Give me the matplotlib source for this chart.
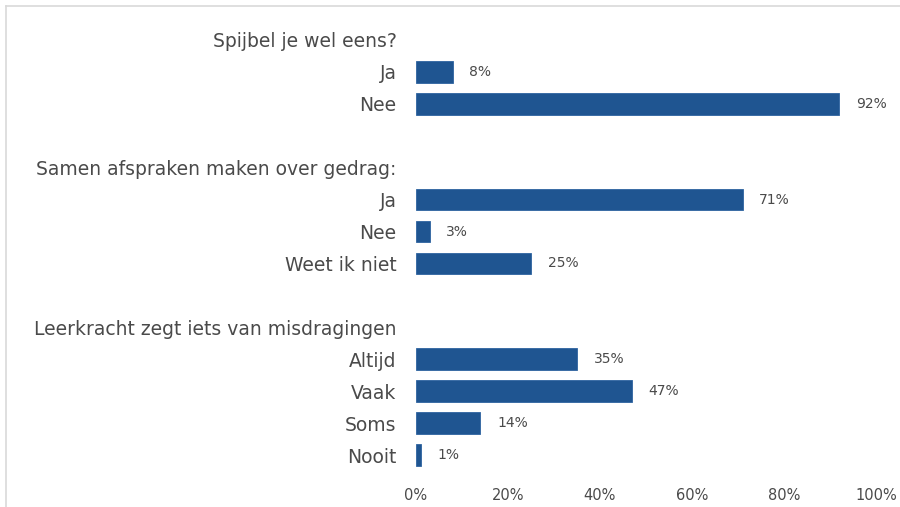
import matplotlib.pyplot as plt
from matplotlib.lines import Line2D

# rows top to bottom; headers and blank spacer rows have no value
labels = ["Spijbel je wel eens?", "Ja", "Nee", "",
          "Samen afspraken maken over gedrag:", "Ja", "Nee", "Weet ik niet", "",
          "Leerkracht zegt iets van misdragingen", "Altijd", "Vaak", "Soms", "Nooit"]
values = [None, 8, 92, None,
          None, 71, 3, 25, None,
          None, 35, 47, 14, 1]

bar_color = "#1F5591"
text_color = "#4A4A4A"

fig = plt.figure(figsize=(9, 5.07), dpi=100)
ax = fig.add_axes([0.4622, 0.071, 0.9733 - 0.4622, 0.9527 - 0.071])

rows = list(range(len(labels)))
for i, v in zip(rows, values):
    if v is None:
        continue
    ax.barh(i, v, height=0.68, color=bar_color, edgecolor="#2E63A0", linewidth=0.6)
    ax.text(v + 3.6, i, f"{v}%", va="center", ha="left", fontsize=10, color=text_color)

ax.set_ylim(len(labels) - 0.5, -0.5)
ax.set_xlim(0, 100)
ax.set_yticks(rows)
ax.set_yticklabels(labels, fontsize=13.5, color=text_color)
ax.set_xticks([0, 20, 40, 60, 80, 100])
ax.set_xticklabels(["0%", "20%", "40%", "60%", "80%", "100%"], fontsize=10.5, color=text_color)
ax.tick_params(axis="y", length=0, pad=14)
ax.tick_params(axis="x", length=0, pad=12)
for s in ax.spines.values():
    s.set_visible(False)

# light chart frame (top and left edges visible)
fig.add_artist(Line2D([6 / 900, 6 / 900], [0, 1 - 6 / 507], color="#D9D9D9", lw=1.2))
fig.add_artist(Line2D([6 / 900, 1], [1 - 6 / 507, 1 - 6 / 507], color="#D9D9D9", lw=1.2))

fig.savefig("out.png", dpi=100)
